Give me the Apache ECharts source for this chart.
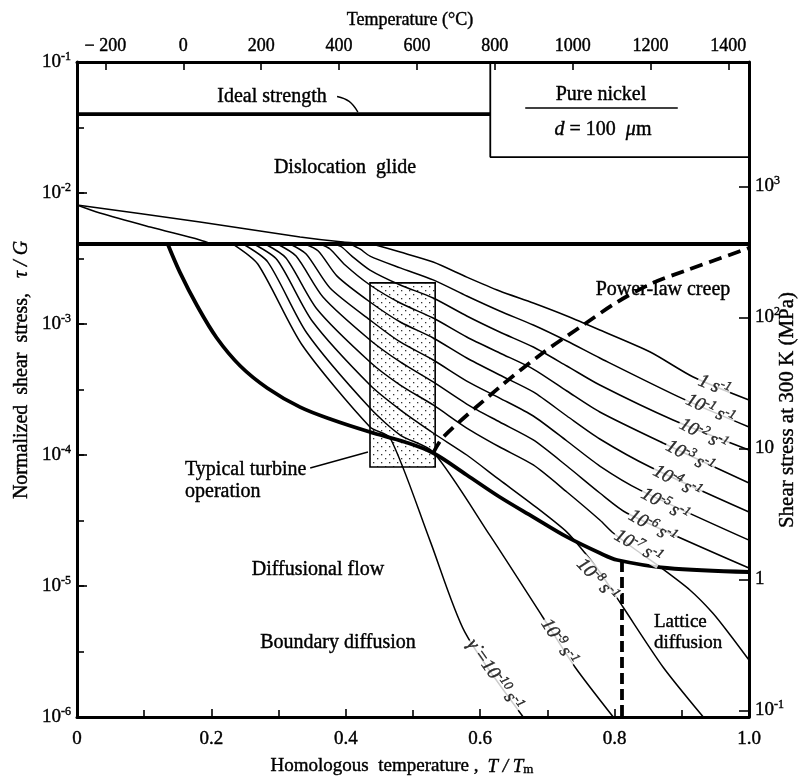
<!DOCTYPE html>
<html><head><meta charset="utf-8">
<script src="https://cdn.jsdelivr.net/npm/echarts@6/dist/echarts.min.js"></script>
<style>html,body{margin:0;padding:0;background:#fff}#c{width:806px;height:782px}</style>
</head><body><div id="c"></div>
<script>
// ---------------- data (T/Tm , tau/G) ----------------
const G_MPa = 8.9e4;            // shear modulus used for the right axis
const Tm_K = 1726;              // melting point of nickel (K)

const glideBoundaryT = [0, 1];
const glideBoundaryTau = [4.08e-3, 4.08e-3];

const idealT = [0, 0.615];
const idealTau = [0.040, 0.040];

const nickelBoxT = [0.615, 0.615, 1.0];
const nickelBoxTau = [0.1, 0.0188, 0.0188];

const glideUpperT = [0, 0.183, 0.332, 0.396, 0.439];
const glideUpperTau = [8.09e-3, 6.01e-3, 4.61e-3, 4.22e-3, 4.08e-3];
const glideLowerT = [0, 0.034, 0.109, 0.183, 0.201];
const glideLowerTau = [8.09e-3, 7.03e-3, 5.50e-3, 4.38e-3, 4.08e-3];

const diffBoundT = [0.135,0.153,0.179,0.208,0.243,0.283,0.332,0.381,0.436,0.488,0.530,0.580,0.629,0.679,0.729,0.778,0.804,0.878,1.0];
const diffBoundTau = [4.08e-3,2.49e-3,1.372e-3,7.82e-4,4.78e-4,3.25e-4,2.32e-4,1.85e-4,1.498e-4,1.257e-4,1.036e-4,7.04e-5,4.78e-5,3.36e-5,2.37e-5,1.786e-5,1.579e-5,1.372e-5,1.279e-5];

const powerLawT = [0.530,0.545,0.629,0.693,0.749,0.804,0.857,0.908,1.0];
const powerLawTau = [1.036e-4,1.372e-4,3.30e-4,6.01e-4,9.49e-4,1.472e-3,2.06e-3,2.58e-3,3.80e-3];

const latticeT = [0.811, 0.811];
const latticeTau = [1.55e-5, 1e-6];

const turbineBox = [0.436, 0.533, 8.10e-5, 2.06e-3]; // Tmin, Tmax, tauMin, tauMax

// strain-rate contours
const c0T = [0.439,0.481,0.530,0.580,0.629,0.679,0.729,0.778,0.853,0.917,1.0];
const c0Tau = [4.08e-3,3.54e-3,2.97e-3,2.28e-3,1.786e-3,1.446e-3,1.151e-3,9.00e-4,6.11e-4,3.94e-4,2.63e-4];
const c1T = [0.406,0.421,0.436,0.481,0.530,0.580,0.629,0.679,0.729,0.778,0.902,1.0];
const c1Tau = [4.08e-3,3.74e-3,3.30e-3,2.68e-3,2.17e-3,1.636e-3,1.257e-3,9.83e-4,7.42e-4,5.50e-4,2.68e-4,1.636e-4];
const c2T = [0.384,0.394,0.409,0.436,0.481,0.530,0.580,0.629,0.679,0.729,0.778,0.887,1.0];
const c2Tau = [4.08e-3,3.87e-3,3.30e-3,2.58e-3,1.985e-3,1.579e-3,1.151e-3,8.69e-4,6.67e-4,4.78e-4,3.42e-4,1.85e-4,1.092e-4];
const c3T = [0.362,0.3765,0.399,0.436,0.481,0.530,0.580,0.629,0.679,0.729,0.778,0.872,1.0];
const c3Tau = [4.08e-3,3.74e-3,2.82e-3,1.985e-3,1.446e-3,1.111e-3,7.96e-4,6.01e-4,4.53e-4,3.08e-4,2.13e-4,1.235e-4,6.11e-5];
const c4T = [0.339,0.359,0.387,0.436,0.481,0.530,0.580,0.629,0.679,0.729,0.778,0.853,1.0];
const c4Tau = [4.08e-3,3.61e-3,2.32e-3,1.472e-3,1.036e-3,7.82e-4,5.50e-4,4.08e-4,3.03e-4,1.985e-4,1.325e-4,8.10e-5,3.67e-5];
const c5T = [0.317,0.341,0.3765,0.436,0.481,0.530,0.580,0.629,0.679,0.729,0.778,0.838,1.0];
const c5Tau = [4.08e-3,3.42e-3,1.883e-3,1.073e-3,7.29e-4,5.31e-4,3.67e-4,2.72e-4,1.985e-4,1.279e-4,8.24e-5,5.40e-5,2.24e-5];
const c6T = [0.298,0.326,0.366,0.436,0.481,0.530,0.580,0.629,0.679,0.729,0.778,0.818,1.0];
const c6Tau = [4.08e-3,3.30e-3,1.607e-3,7.55e-4,5.13e-4,3.61e-4,2.45e-4,1.786e-4,1.302e-4,8.24e-5,5.13e-5,3.61e-5,1.372e-5];
const c7T = [0.280,0.311,0.357,0.436,0.481,0.530,0.580,0.629,0.679,0.729,0.778,0.798,0.838,0.8675,0.912,0.946,0.972,1.0];
const c7Tau = [4.08e-3,3.19e-3,1.302e-3,5.13e-4,3.42e-4,2.41e-4,1.607e-4,1.151e-4,8.39e-5,5.22e-5,3.19e-5,2.54e-5,1.786e-5,1.397e-5,9.32e-6,6.22e-6,4.23e-6,2.72e-6];
const c8T = [0.263,0.298,0.350,0.436,0.481,0.530,0.580,0.629,0.679,0.729,0.756,0.778,0.8125,0.872,0.932];
const c8Tau = [4.08e-3,3.08e-3,1.054e-3,3.42e-4,2.21e-4,1.472e-4,1.0e-4,6.45e-5,4.15e-5,2.58e-5,1.786e-5,1.279e-5,6.91e-6,2.41e-6,1e-6];
const c9T = [0.247,0.284,0.342,0.436,0.481,0.530,0.615,0.693,0.741,0.798];
const c9Tau = [4.08e-3,2.97e-3,8.54e-4,2.28e-4,1.421e-4,1.054e-4,2.41e-5,5.80e-6,2.41e-6,1e-6];
const c10T = [0.232,0.269,0.335,0.436,0.466,0.525,0.577,0.664];
const c10Tau = [4.08e-3,2.87e-3,6.91e-4,1.636e-4,1.348e-4,2.24e-5,4.46e-6,1e-6];

// contour labels
const contourLabelText = ['1 s-1','10-1 s-1','10-2 s-1','10-3 s-1','10-4 s-1','10-5 s-1','10-6 s-1','10-7 s-1','10-8 s-1','10-9 s-1','γ̇ =10-10 s-1'];
const contourLabelT = [0.948,0.942,0.932,0.912,0.893,0.875,0.856,0.835,0.774,0.717,0.621];
const contourLabelTau = [3.35e-4,2.21e-4,1.421e-4,9.66e-5,6.22e-5,4.15e-5,2.82e-5,1.985e-5,1.111e-5,3.74e-6,2.09e-6];
const contourLabelAngle = [-22,-25,-27,-28,-28,-29,-30,-30,-47,-57,-55];

// leader lines
const idealLeaderT = [0.387, 0.405, 0.418];
const idealLeaderTau = [0.0545, 0.0500, 0.0415];
const turbineLeaderT = [0.347, 0.433];
const turbineLeaderTau = [7.96e-5, 1.054e-4];
const nickelUnderlineT = [0.667, 0.894];
const nickelUnderlineTau = [0.0446, 0.0446];

// ---------------- helpers ----------------
const FONT = '"Liberation Serif","Times New Roman",serif';
const INK = { textBorderColor: '#000', textBorderWidth: 0.4 };
const zip = (a, b) => a.map((v, i) => [v, b[i]]);
function line(T, tau, width, extra) {
  return Object.assign({
    type: 'line', data: zip(T, tau), symbol: 'none', silent: true, animation: false,
    lineStyle: { color: '#000', width: width }, z: 3
  }, extra || {});
}
function supText(s) { // convert 'a-1' tokens into rich superscripts
  return s.replace(/(10|s)(-\d+)/g, (m, b, e) => '{n|' + b + '}{u|' + e + '}').replace(/^([^{]+)/, '{n|$1}');
}
const dotCanvas = (function () {
  const c = document.createElement('canvas'); c.width = 8; c.height = 8;
  const g = c.getContext('2d'); g.fillStyle = '#fff'; g.fillRect(0, 0, 8, 8);
  g.fillStyle = '#333'; g.fillRect(1, 2, 1.3, 1.3); g.fillRect(5, 6, 1.3, 1.3);
  return c;
})();

const chart = echarts.init(document.getElementById('c'), null, { renderer: 'canvas' });

const axisLine = { show: true, onZero: false, lineStyle: { color: '#000', width: 3 } };
const tickStyle = { color: '#000', width: 1.6 };
const supRich = {
  b: Object.assign({ fontSize: 19, lineHeight: 19, verticalAlign: 'bottom', fontFamily: FONT, color: '#000' }, INK),
  s: Object.assign({ fontSize: 12, lineHeight: 12, padding: [0, 0, 9, 0], verticalAlign: 'bottom', fontFamily: FONT, color: '#000' }, INK)
};

const labelData = contourLabelText.map((t, i) => ({
  value: [contourLabelT[i], contourLabelTau[i]], name: t,
  label: { rotate: contourLabelAngle[i] }
}));

const contourSeries = [
  [c0T, c0Tau], [c1T, c1Tau], [c2T, c2Tau], [c3T, c3Tau], [c4T, c4Tau], [c5T, c5Tau],
  [c6T, c6Tau], [c7T, c7Tau], [c8T, c8Tau], [c9T, c9Tau], [c10T, c10Tau]
].map(p => line(p[0], p[1], 1.5, { smooth: 0.25 }));

const option = {
  backgroundColor: '#fff',
  animation: false,
  grid: { left: 77, right: 57, top: 62, bottom: 65 },
  xAxis: [
    {
      type: 'value', position: 'bottom', min: 0, max: 1, interval: 0.2,
      axisLine: axisLine, splitLine: { show: false },
      axisTick: { inside: true, length: 8, lineStyle: tickStyle },
      minorTick: { show: true, splitNumber: 2, length: 7, lineStyle: tickStyle },
      axisLabel: Object.assign({
        color: '#000', fontFamily: FONT, fontSize: 19, margin: 13,
        formatter: v => (Math.abs(v) < 1e-9 ? '0' : v.toFixed(1))
      }, INK)
    },
    {
      type: 'value', position: 'top', min: -273, max: Tm_K - 273, splitNumber: 8,
      axisLine: axisLine, splitLine: { show: false },
      axisTick: { inside: true, length: 8, lineStyle: tickStyle },
      axisLabel: Object.assign({
        color: '#000', fontFamily: FONT, fontSize: 18, margin: 7,
        showMinLabel: false, showMaxLabel: false,
        formatter: v => (v < 0 ? '\u2212 ' + (-v) : String(v))
      }, INK)
    }
  ],
  yAxis: [
    {
      type: 'log', logBase: 10, min: 1e-6, max: 1e-1, position: 'left',
      axisLine: axisLine, splitLine: { show: false },
      axisTick: { inside: true, length: 10, lineStyle: tickStyle },
      axisLabel: {
        margin: 6,
        formatter: v => '{b|10}{s|' + Math.round(Math.log10(v)) + '}',
        rich: supRich
      }
    },
    {
      type: 'log', logBase: 10, min: 1e-6 * G_MPa, max: 1e-1 * G_MPa, position: 'right',
      axisLine: axisLine, splitLine: { show: false },
      axisTick: { inside: true, length: 10, lineStyle: tickStyle },
      axisLabel: {
        margin: 6, showMinLabel: false, showMaxLabel: false,
        formatter: v => {
          const e = Math.round(Math.log10(v));
          if (Math.abs(v / Math.pow(10, e) - 1) > 0.02) return '';
          if (e === 0) return '{b|1}';
          if (e === 1) return '{b|10}';
          return '{b|10}{s|' + e + '}';
        },
        rich: supRich
      }
    },
    { // half-decade ticks of the left axis (log10 of tau/G)
      type: 'value', min: -6, max: -1, interval: 0.5, position: 'left',
      axisLine: { show: false, onZero: false }, splitLine: { show: false },
      axisTick: { inside: true, length: 7, lineStyle: tickStyle },
      axisLabel: { show: false }
    }
  ],
  series: [
    {
      type: 'custom', silent: true, z: 1,
      data: [turbineBox],
      encode: { x: [0, 1], y: [2, 3] },
      renderItem: (params, api) => {
        const p0 = api.coord([api.value(0), api.value(3)]);
        const p1 = api.coord([api.value(1), api.value(2)]);
        return {
          type: 'rect',
          shape: { x: p0[0], y: p0[1], width: p1[0] - p0[0], height: p1[1] - p0[1] },
          style: { fill: { image: dotCanvas, repeat: 'repeat' }, stroke: '#000', lineWidth: 1.6 }
        };
      }
    },
    line(glideBoundaryT, glideBoundaryTau, 3.8),
    line(idealT, idealTau, 3.8),
    line(nickelBoxT, nickelBoxTau, 1.8),
    line(glideUpperT, glideUpperTau, 1.5, { smooth: 0.2 }),
    line(glideLowerT, glideLowerTau, 1.5, { smooth: 0.3 }),
    ...contourSeries,
    line(diffBoundT, diffBoundTau, 3.8, { smooth: 0.35, z: 4 }),
    line(powerLawT, powerLawTau, 3.8, { smooth: 0.3, z: 4, lineStyle: { color: '#000', width: 3.8, type: [13, 7] } }),
    line(latticeT, latticeTau, 3.8, { z: 4, lineStyle: { color: '#000', width: 3.8, type: [11, 5] } }),
    line(idealLeaderT, idealLeaderTau, 1.4, { smooth: 0.4 }),
    line(turbineLeaderT, turbineLeaderTau, 1.4),
    line(nickelUnderlineT, nickelUnderlineTau, 1.5),
    {
      type: 'scatter', symbolSize: 0, silent: true, z: 6,
      data: labelData,
      label: {
        show: true, position: 'inside', backgroundColor: '#fff', padding: [0, 1],
        formatter: p => supText(p.name),
        rich: {
          n: Object.assign({ fontSize: 19, lineHeight: 19, verticalAlign: 'bottom', fontFamily: FONT, color: '#000', fontStyle: 'italic' }, INK),
          u: Object.assign({ fontSize: 13, lineHeight: 13, padding: [0, 0, 8, 0], verticalAlign: 'bottom', fontFamily: FONT, color: '#000', fontStyle: 'italic' }, INK)
        }
      }
    }
  ],
  graphic: []
};

const GSTROKE = { stroke: '#000', lineWidth: 0.4 };
function txt(text, x, y, size, align, extra) {
  return Object.assign({
    type: 'text', x: x, y: y, silent: true, z: 10,
    style: Object.assign({ text: text, fontSize: size || 20, fontFamily: FONT, fill: '#000', align: align || 'center', verticalAlign: 'middle' }, GSTROKE)
  }, extra || {});
}
option.graphic = [
  txt('Temperature (°C)', 410, 20, 18),
  txt('Ideal strength', 272, 97, 20),
  txt('Pure nickel', 601, 95, 20),
  {
    type: 'text', x: 603, y: 130, silent: true, z: 10,
    style: Object.assign({
      text: '{i|d} = 100  {i|μ}m', align: 'center', verticalAlign: 'middle', fontSize: 20, fontFamily: FONT, fill: '#000',
      rich: { i: { fontStyle: 'italic', fontSize: 20, fontFamily: FONT, fill: '#000' } }
    }, GSTROKE)
  },
  txt('Dislocation  glide', 345, 168, 20),
  txt('Power-law creep', 663, 290, 20),
  txt('Typical turbine', 185, 470, 20, 'left'),
  txt('operation', 185, 492, 20, 'left'),
  txt('Diffusional flow', 318, 570, 20),
  txt('Boundary diffusion', 338, 643, 20),
  txt('Lattice', 654, 622, 19, 'left'),
  txt('diffusion', 654, 643, 19, 'left'),
  {
    type: 'text', x: 22, y: 370, rotation: Math.PI / 2, silent: true, z: 10,
    style: Object.assign({
      text: 'Normalized  shear  stress,   {i|τ / G}', align: 'center', verticalAlign: 'middle', fontSize: 20, fontFamily: FONT, fill: '#000',
      rich: { i: { fontStyle: 'italic', fontSize: 20, fontFamily: FONT, fill: '#000' } }
    }, GSTROKE)
  },
  {
    type: 'text', x: 787, y: 410, rotation: Math.PI / 2, silent: true, z: 10,
    style: Object.assign({ text: 'Shear stress at 300 K (MPa)', align: 'center', verticalAlign: 'middle', fontSize: 21, fontFamily: FONT, fill: '#000' }, GSTROKE)
  },
  {
    type: 'text', x: 402, y: 766, silent: true, z: 10,
    style: Object.assign({
      text: '{n|Homologous  temperature ,}   {i|T / T}{m|m}', align: 'center', verticalAlign: 'middle', fontFamily: FONT, fill: '#000',
      rich: {
        n: { fontSize: 19, lineHeight: 20, verticalAlign: 'bottom', fontFamily: FONT, fill: '#000' },
        i: { fontSize: 19, lineHeight: 20, verticalAlign: 'bottom', fontStyle: 'italic', fontFamily: FONT, fill: '#000' },
        m: { fontSize: 13, lineHeight: 13, verticalAlign: 'bottom', fontFamily: FONT, fill: '#000' }
      }
    }, GSTROKE)
  }
];

chart.setOption(option);
</script></body></html>
